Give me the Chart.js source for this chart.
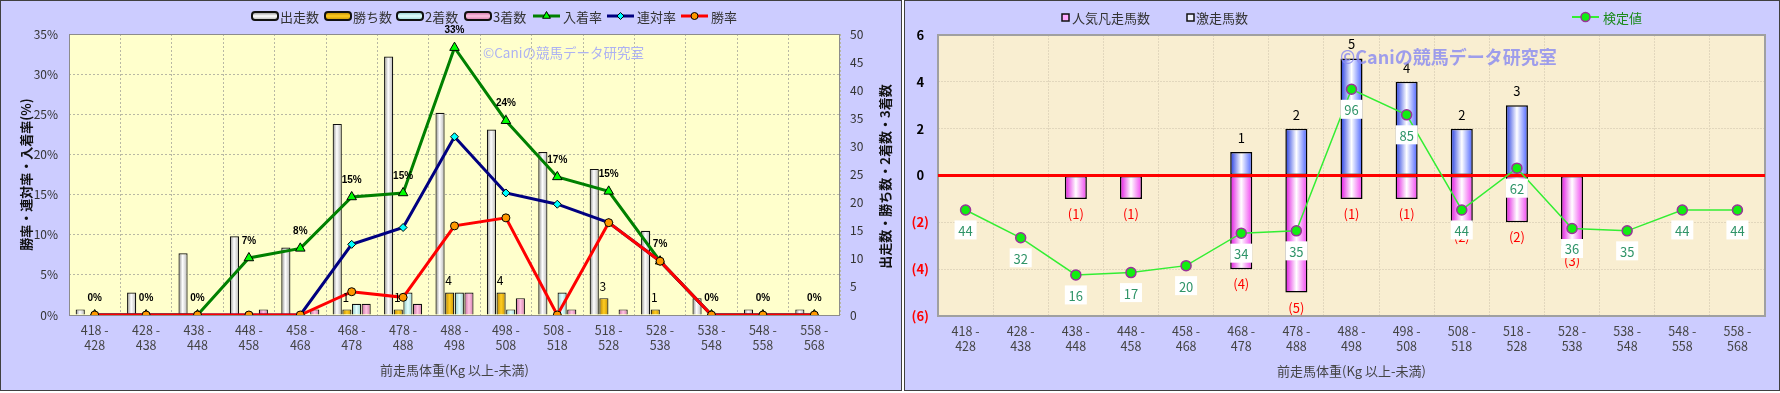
<!DOCTYPE html>
<html lang="ja">
<head>
<meta charset="utf-8">
<title>前走馬体重別成績</title>
<script src="https://cdn.jsdelivr.net/npm/chart.js@4.4.1/dist/chart.umd.min.js"></script>
<style>
  html, body { margin: 0; padding: 0; background: #ffffff; }
  body { width: 1780px; height: 393px; position: relative; overflow: hidden; }
  .panel { position: absolute; top: 0; height: 389px; border: 1px solid #404040; background: #ccccff; }
  #leftPanel { left: 0; width: 900px; }
  #rightPanel { left: 904px; width: 874px; }
  canvas { display: block; }
</style>
</head>
<body>
<div class="panel" id="leftPanel"><canvas id="resultChart" width="900" height="389"></canvas></div>
<div class="panel" id="rightPanel"><canvas id="testChart" width="874" height="389"></canvas></div>
<script>
// === data ===
const categories = [
    ['418 -', '428'], ['428 -', '438'], ['438 -', '448'], ['448 -', '458'], ['458 -', '468'],
    ['468 -', '478'], ['478 -', '488'], ['488 -', '498'], ['498 -', '508'], ['508 -', '518'],
    ['518 -', '528'], ['528 -', '538'], ['538 -', '548'], ['548 -', '558'], ['558 -', '568']
];
const runs         = [1, 4, 11, 14, 12, 34, 46, 36, 33, 29, 26, 15, 3, 1, 1];
const wins         = [0, 0, 0, 0, 0, 1, 1, 4, 4, 0, 3, 1, 0, 0, 0];
const seconds      = [0, 0, 0, 0, 0, 2, 4, 4, 1, 4, 0, 0, 0, 0, 0];
const thirds       = [0, 0, 0, 1, 1, 2, 2, 4, 3, 1, 1, 0, 0, 0, 0];
const placeRate    = [0, 0, 0, 7.1, 8.3, 14.7, 15.2, 33.3, 24.2, 17.2, 15.4, 6.7, 0, 0, 0];
const quinellaRate = [0, 0, 0, 0, 0, 8.8, 10.9, 22.2, 15.2, 13.8, 11.5, 6.7, 0, 0, 0];
const winRate      = [0, 0, 0, 0, 0, 2.9, 2.2, 11.1, 12.1, 0, 11.5, 6.7, 0, 0, 0];

const popularFlops = [0, 0, -1, -1, 0, -4, -5, -1, -1, -2, -2, -3, 0, 0, 0];
const longshotHits = [0, 0, 0, 0, 0, 1, 2, 5, 4, 2, 3, 0, 0, 0, 0];
const testValues   = [44, 32, 16, 17, 20, 34, 35, 96, 85, 44, 62, 36, 35, 44, 44];

const JP = '"Noto Sans CJK JP", "Noto Sans", sans-serif';
const WATERMARK = '©Caniの競馬データ研究室';
const X_TITLE = '前走馬体重(Kg 以上-未満)';

Chart.defaults.font.family = JP;
Chart.defaults.color = '#333';

// zero -> no bar
const nz = v => (v === 0 ? null : v);

// horizontal "cylinder" gradient for a bar, positioned from the x scale
function barFill(slot, slots, catPct, barPct, stops) {
    return function (c) {
        const chart = c.chart;
        const xs = chart.scales && chart.scales.x;
        if (c.type !== 'data' || !xs || !xs.width) return stops[0][1];
        const catW = xs.width / categories.length;
        const band = catW * catPct;
        const chunk = band / slots;
        const cx = xs.getPixelForValue(c.dataIndex) - band / 2 + chunk * (slot + 0.5);
        const half = chunk * barPct / 2;
        const g = chart.ctx.createLinearGradient(cx - half, 0, cx + half, 0);
        stops.forEach(s => g.addColorStop(s[0], s[1]));
        return g;
    };
}

function drawMarker(ctx, style, x, y, r, fill, stroke, lw) {
    ctx.beginPath();
    if (style === 'triangle') {
        ctx.moveTo(x, y - r);
        ctx.lineTo(x + r * 0.866, y + r * 0.5);
        ctx.lineTo(x - r * 0.866, y + r * 0.5);
    } else if (style === 'rectRot') {
        ctx.moveTo(x - r, y); ctx.lineTo(x, y - r); ctx.lineTo(x + r, y); ctx.lineTo(x, y + r);
    } else {
        ctx.arc(x, y, r, 0, Math.PI * 2);
    }
    ctx.closePath();
    ctx.fillStyle = fill; ctx.fill();
    ctx.lineWidth = lw || 1; ctx.strokeStyle = stroke; ctx.stroke();
}

const runStops    = [[0, '#8a8a8a'], [0.45, '#ffffff'], [1, '#b4b4b4']];
const winStops    = [[0, '#b88400'], [0.5, '#ffcc22'], [1, '#c89400']];
const secondStops = [[0, '#88c8c8'], [0.5, '#e4ffff'], [1, '#98d4d4']];
const thirdStops  = [[0, '#c86aa0'], [0.5, '#ffc4e2'], [1, '#d47aac']];
const hitStops    = [[0, '#2038e0'], [0.5, '#ffffff'], [1, '#4860ff']];
const flopStops   = [[0, '#e010e0'], [0.5, '#ffffff'], [1, '#f040f0']];

// === left chart: counts + rates ===
const CAT_L = 0.75, BAR_L = 0.95;

const leftExtras = {
    id: 'leftExtras',
    beforeDraw(chart) {
        const { ctx, chartArea: a } = chart;
        ctx.save();
        ctx.fillStyle = '#ffffcc';
        ctx.fillRect(a.left, a.top, a.width, a.height);
        ctx.restore();
    },
    beforeDatasetsDraw(chart) {
        const { ctx, chartArea: a } = chart;
        ctx.save();
        ctx.strokeStyle = '#8c8c8c';
        ctx.lineWidth = 1;
        ctx.strokeRect(a.left + 0.5, a.top + 0.5, a.width - 1, a.height);
        ctx.font = '13.5px ' + JP;
        ctx.fillStyle = '#adb2f2';
        ctx.textBaseline = 'middle';
        ctx.fillText(WATERMARK, 482, 52);
        ctx.restore();
    },
    afterDatasetsDraw(chart) {
        const ctx = chart.ctx;
        ctx.save();
        ctx.textAlign = 'center';
        ctx.textBaseline = 'middle';
        ctx.fillStyle = '#000';
        ctx.font = 'bold 10px "Liberation Sans", sans-serif';
        chart.getDatasetMeta(4).data.forEach((pt, i) => {
            ctx.fillText(Math.round(placeRate[i]) + '%', pt.x, pt.y - 17);
        });
        ctx.font = '12px ' + JP;
        chart.getDatasetMeta(1).data.forEach((bar, i) => {
            if (wins[i] > 0) ctx.fillText(String(wins[i]), bar.x - 1, bar.y - 12);
        });
        ctx.restore();
    },
    afterDraw(chart) {
        const { ctx, chartArea: a } = chart;
        ctx.save();
        // right axis title, reads bottom to top
        ctx.translate(884, (a.top + a.bottom) / 2 + 2);
        ctx.rotate(-Math.PI / 2);
        ctx.font = 'bold 13px ' + JP;
        ctx.fillStyle = '#111';
        ctx.textAlign = 'center';
        ctx.textBaseline = 'middle';
        ctx.fillText('出走数・勝ち数・2着数・3着数', 0, 0);
        ctx.restore();

        // legend
        ctx.save();
        const y = 15;
        ctx.font = '13px ' + JP;
        ctx.fillStyle = '#333';
        ctx.textBaseline = 'middle';
        const boxes = [
            { x: 251, tx: 279, text: '出走数', stops: runStops },
            { x: 324, tx: 352, text: '勝ち数', stops: winStops },
            { x: 396, tx: 424, text: '2着数', stops: secondStops },
            { x: 464, tx: 492, text: '3着数', stops: thirdStops }
        ];
        boxes.forEach(b => {
            const g = ctx.createLinearGradient(0, y - 4, 0, y + 4);
            g.addColorStop(0, b.stops[0][1]);
            g.addColorStop(0.5, b.stops[1][1]);
            g.addColorStop(1, b.stops[2][1]);
            ctx.beginPath();
            ctx.roundRect(b.x, y - 4, 26, 8, 3);
            ctx.fillStyle = g; ctx.fill();
            ctx.lineWidth = 2; ctx.strokeStyle = '#111'; ctx.stroke();
            ctx.fillStyle = '#333';
            ctx.fillText(b.text, b.tx, y + 1);
        });
        const lines = [
            { x: 532, tx: 562, text: '入着率', color: '#008000', style: 'triangle', r: 4.5, fill: '#00ff00' },
            { x: 606, tx: 636, text: '連対率', color: '#000080', style: 'rectRot', r: 3.5, fill: '#00ffff' },
            { x: 680, tx: 710, text: '勝率', color: '#ff0000', style: 'circle', r: 3.5, fill: '#ff9900' }
        ];
        lines.forEach(l => {
            ctx.beginPath();
            ctx.moveTo(l.x, y); ctx.lineTo(l.x + 27, y);
            ctx.lineWidth = 3; ctx.strokeStyle = l.color; ctx.stroke();
            drawMarker(ctx, l.style, l.x + 13.5, y, l.r, l.fill, '#000', 1);
            ctx.fillStyle = '#333';
            ctx.fillText(l.text, l.tx, y + 1);
        });
        ctx.restore();
    }
};

new Chart(document.getElementById('resultChart'), {
    type: 'bar',
    data: {
        labels: categories,
        datasets: [
            { label: '出走数', data: runs.map(nz), yAxisID: 'yR', order: 4,
              backgroundColor: barFill(0, 4, CAT_L, BAR_L, runStops),
              borderColor: '#111', borderWidth: 1.2, categoryPercentage: CAT_L, barPercentage: BAR_L },
            { label: '勝ち数', data: wins.map(nz), yAxisID: 'yR', order: 5,
              backgroundColor: barFill(1, 4, CAT_L, BAR_L, winStops),
              borderColor: '#111', borderWidth: 1.2, categoryPercentage: CAT_L, barPercentage: BAR_L },
            { label: '2着数', data: seconds.map(nz), yAxisID: 'yR', order: 6,
              backgroundColor: barFill(2, 4, CAT_L, BAR_L, secondStops),
              borderColor: '#111', borderWidth: 1.2, categoryPercentage: CAT_L, barPercentage: BAR_L },
            { label: '3着数', data: thirds.map(nz), yAxisID: 'yR', order: 7,
              backgroundColor: barFill(3, 4, CAT_L, BAR_L, thirdStops),
              borderColor: '#111', borderWidth: 1.2, categoryPercentage: CAT_L, barPercentage: BAR_L },
            { type: 'line', label: '入着率', data: placeRate, yAxisID: 'yL', order: 3,
              borderColor: '#008000', borderWidth: 3, tension: 0,
              pointStyle: 'triangle', pointRadius: 5.5, pointBackgroundColor: '#00ff00',
              pointBorderColor: '#000', pointBorderWidth: 1 },
            { type: 'line', label: '連対率', data: quinellaRate, yAxisID: 'yL', order: 2,
              borderColor: '#000080', borderWidth: 3, tension: 0,
              pointStyle: 'rectRot', pointRadius: 4, pointBackgroundColor: '#00ffff',
              pointBorderColor: '#000', pointBorderWidth: 1 },
            { type: 'line', label: '勝率', data: winRate, yAxisID: 'yL', order: 1,
              borderColor: '#ff0000', borderWidth: 3, tension: 0,
              pointStyle: 'circle', pointRadius: 4, pointBackgroundColor: '#ff9900',
              pointBorderColor: '#000', pointBorderWidth: 1 }
        ]
    },
    options: {
        responsive: false,
        animation: false,
        layout: { padding: { top: 33, left: 0, right: 0, bottom: 0 } },
        plugins: { legend: { display: false }, tooltip: { enabled: false } },
        scales: {
            x: {
                afterFit: s => { s.height = 75; },
                grid: { color: '#b8b8a4', drawTicks: false },
                border: { display: false, dash: [2, 2] },
                ticks: { color: '#444', font: { size: 12.5 }, padding: 8, maxRotation: 0, autoSkip: false },
                title: { display: true, text: X_TITLE, color: '#444', font: { size: 13 }, padding: { top: 0, bottom: 12 } }
            },
            yL: {
                position: 'left', min: 0, max: 35,
                afterFit: s => { s.width = 68; },
                grid: { color: '#b8b8a4', drawTicks: false },
                border: { display: false, dash: [2, 2] },
                ticks: { stepSize: 5, color: '#333', font: { size: 12 }, padding: 11, callback: v => v + '%' },
                title: { display: true, text: '勝率・連対率・入着率(%)', color: '#111',
                         font: { size: 13, weight: 'bold' }, padding: { top: 17, bottom: 0 } }
            },
            yR: {
                position: 'right', min: 0, max: 50,
                afterFit: s => { s.width = 61; },
                grid: { drawOnChartArea: false, drawTicks: false },
                border: { display: false },
                ticks: { stepSize: 5, color: '#333', font: { size: 12 }, padding: 10 }
            }
        }
    },
    plugins: [leftExtras]
});

// === right chart: upset / flop counts + test value ===
const CAT_R = 0.8, BAR_R = 0.5;

const rightExtras = {
    id: 'rightExtras',
    beforeDraw(chart) {
        const { ctx, chartArea: a } = chart;
        ctx.save();
        ctx.fillStyle = '#f9eed1';
        ctx.fillRect(a.left, a.top, a.width, a.height);
        ctx.restore();
    },
    beforeDatasetsDraw(chart) {
        const { ctx, chartArea: a } = chart;
        ctx.save();
        ctx.strokeStyle = '#a0a0a0';
        ctx.lineWidth = 2;
        ctx.strokeRect(a.left, a.top, a.width, a.height);
        ctx.restore();
    },
    beforeDatasetDraw(chart, args) {
        if (args.index !== 2) return;
        const { ctx, chartArea: a } = chart;
        const y0 = chart.scales.y.getPixelForValue(0);
        ctx.save();
        ctx.beginPath();
        ctx.moveTo(a.left, y0); ctx.lineTo(a.right, y0);
        ctx.lineWidth = 3; ctx.strokeStyle = '#ff0000'; ctx.stroke();

        ctx.font = '13px ' + JP;
        ctx.textAlign = 'center';
        ctx.textBaseline = 'middle';
        ctx.fillStyle = '#000';
        chart.getDatasetMeta(1).data.forEach((b, i) => {
            if (longshotHits[i] > 0) ctx.fillText(String(longshotHits[i]), b.x, b.y - 14);
        });
        ctx.fillStyle = '#ff0000';
        chart.getDatasetMeta(0).data.forEach((b, i) => {
            if (popularFlops[i] < 0) ctx.fillText('(' + (-popularFlops[i]) + ')', b.x, b.y + 15);
        });
        ctx.restore();
    },
    afterDatasetsDraw(chart) {
        const ctx = chart.ctx;
        ctx.save();
        ctx.font = '13px ' + JP;
        ctx.textAlign = 'center';
        ctx.textBaseline = 'middle';
        chart.getDatasetMeta(2).data.forEach((pt, i) => {
            const cy = pt.y + 20;
            ctx.fillStyle = '#ffffff';
            ctx.fillRect(pt.x - 11, cy - 9.5, 22, 19);
            ctx.fillStyle = '#2f9468';
            ctx.fillText(String(testValues[i]), pt.x, cy + 1);
        });
        ctx.globalAlpha = 0.85;
        ctx.font = 'bold 18px ' + JP;
        ctx.fillStyle = '#8e8ef0';
        ctx.textAlign = 'left';
        ctx.fillText(WATERMARK, 435, 56);
        ctx.restore();
    },
    afterDraw(chart) {
        const ctx = chart.ctx;
        const y = 16;
        ctx.save();
        ctx.font = '13px ' + JP;
        ctx.textBaseline = 'middle';
        // 人気凡走馬数
        ctx.fillStyle = '#ffaaff';
        ctx.fillRect(157, y - 3, 7, 7);
        ctx.lineWidth = 1.5; ctx.strokeStyle = '#111';
        ctx.strokeRect(157, y - 3, 7, 7);
        ctx.fillStyle = '#333';
        ctx.fillText('人気凡走馬数', 167, y + 1);
        // 激走馬数
        ctx.fillStyle = '#eef0ff';
        ctx.fillRect(282, y - 3, 7, 7);
        ctx.strokeRect(282, y - 3, 7, 7);
        ctx.fillStyle = '#333';
        ctx.fillText('激走馬数', 291, y + 1);
        // 検定値
        ctx.beginPath();
        ctx.moveTo(667, y); ctx.lineTo(694, y);
        ctx.lineWidth = 2; ctx.strokeStyle = '#33ee33'; ctx.stroke();
        drawMarker(ctx, 'circle', 680.5, y, 4.5, '#11ee11', '#993399', 1.5);
        ctx.fillStyle = '#1a8a1a';
        ctx.fillText('検定値', 698, y + 1);
        ctx.restore();
    }
};

new Chart(document.getElementById('testChart'), {
    type: 'bar',
    data: {
        labels: categories,
        datasets: [
            { label: '人気凡走馬数', data: popularFlops.map(nz), order: 1,
              backgroundColor: barFill(0, 1, CAT_R, BAR_R, flopStops),
              borderColor: '#000', borderWidth: 1.5, borderSkipped: false,
              categoryPercentage: CAT_R, barPercentage: BAR_R },
            { label: '激走馬数', data: longshotHits.map(nz), order: 1,
              backgroundColor: barFill(0, 1, CAT_R, BAR_R, hitStops),
              borderColor: '#000', borderWidth: 1.5, borderSkipped: false,
              categoryPercentage: CAT_R, barPercentage: BAR_R },
            { type: 'line', label: '検定値', data: testValues, yAxisID: 'yT', order: 0,
              borderColor: '#33ee33', borderWidth: 1.5, tension: 0,
              pointRadius: 5, pointBackgroundColor: '#11ee11',
              pointBorderColor: '#993399', pointBorderWidth: 1.5 }
        ]
    },
    options: {
        responsive: false,
        animation: false,
        layout: { padding: { top: 34, left: 0, right: 14, bottom: 0 } },
        plugins: { legend: { display: false }, tooltip: { enabled: false } },
        scales: {
            x: {
                stacked: true,
                afterFit: s => { s.height = 74; },
                grid: { color: '#e2d7bd', drawTicks: false },
                border: { display: false, dash: [2, 1] },
                ticks: { color: '#444', font: { size: 12.5 }, padding: 8, maxRotation: 0, autoSkip: false },
                title: { display: true, text: X_TITLE, color: '#444', font: { size: 13 }, padding: { top: 0, bottom: 11 } }
            },
            y: {
                stacked: true, min: -6, max: 6,
                afterFit: s => { s.width = 33; },
                grid: { color: '#e2d7bd', drawTicks: false },
                border: { display: false, dash: [2, 1] },
                ticks: {
                    stepSize: 2, padding: 9, crossAlign: 'center',
                    font: { size: 13, weight: 'bold' },
                    color: c => (c.tick && c.tick.value < 0 ? '#ff0000' : '#000000'),
                    callback: v => (v < 0 ? '(' + (-v) + ')' : String(v))
                }
            },
            yT: { display: false, min: -1.7, max: 119.4 }
        }
    },
    plugins: [rightExtras]
});
</script>
</body>
</html>
